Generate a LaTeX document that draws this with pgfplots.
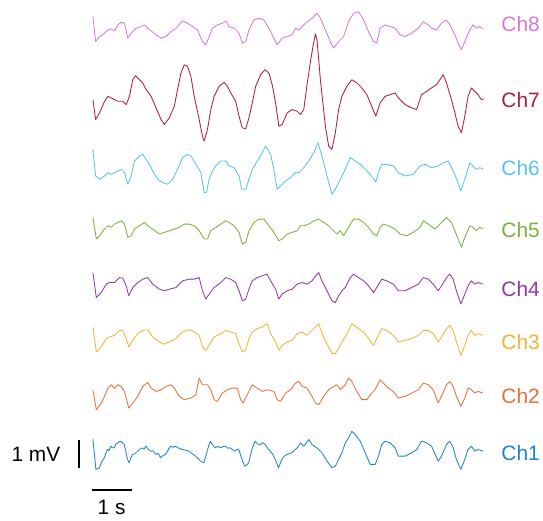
\documentclass[border=0pt]{standalone}
\usepackage{fontspec}
\setmainfont{Liberation Sans}
\usepackage{pgfplots}
\pgfplotsset{compat=1.18}

\definecolor{cA}{RGB}{30,130,200}
\definecolor{cB}{RGB}{232,110,60}
\definecolor{cC}{RGB}{240,180,50}
\definecolor{cD}{RGB}{140,60,160}
\definecolor{cE}{RGB}{125,175,60}
\definecolor{cF}{RGB}{85,195,235}
\definecolor{cG}{RGB}{170,30,60}
\definecolor{cH}{RGB}{215,120,215}
\tikzset{lbl/.style={font=\fontsize{21}{25}\selectfont, anchor=west}}

\begin{document}
\begin{tikzpicture}
\begin{axis}[
  width=543bp, height=523bp, scale only axis,
  xmin=0, xmax=543, ymin=0, ymax=523,
  y dir=reverse,
  hide axis, clip=false,
  every axis plot/.append style={line width=0.85pt, line join=round},
]
\addplot[draw=none, forget plot] coordinates {(0,0) (543,523)};

% Ch8
\addplot[cH] coordinates {
(93.3,16.7)(96,41.7)(100,36.7)(105,33.3)(108.3,30)(111.7,29)(115,31)(118.3,25)(121.7,22.3)(125,23.3)
(128.3,38.3)(131.7,33.3)(136.7,28.3)(141.7,26.7)(145,25)(148.3,28.3)(151.7,31)(156.7,35)(161.7,38.3)
(166.7,36.7)(171.7,31.7)(176.7,28.3)(183.3,21)(188.3,23.3)(193.3,26.7)(198.3,30)(203.3,41.7)(206.7,45)
(210,36.7)(213.3,28.3)(218.3,25)(223.3,23.3)(226.7,21)(230,26.7)(235,28.3)(240,33.3)(243.3,43.3)
(246.7,41.7)(250,30)(255,20)(260,18.3)(265,20)(270,28.3)(275,38.3)(278.3,45)(283.3,38.3)(288.3,36.7)
(293.3,35)(296.7,28.3)(300,30)(306.7,23.3)(313.3,18.3)(318.3,13.3)(321.7,18.3)(326.7,30)(331.7,41.7)
(335,48.3)(340,41.7)(345,36.7)(350,21.7)(355,13.3)(360,11.7)(365,20)(370,31.7)(375,41.7)(378.3,43.3)
(381.7,28.3)(386.7,25)(391.7,26.7)(396.7,28.3)(401.7,35)(406.7,36.7)(413.3,33.3)(420,28.3)(425,21.7)
(430,25)(433.3,28.3)(438.3,30)(443.3,23.3)(448.3,20)(451.7,25)(456.7,35)(460,43.3)(463.3,50)
(466.7,41.7)(471.7,30)(475,25)(478.3,28.3)(481.7,26.7)(485,29)};

% Ch7
\addplot[cG] coordinates {
(93.3,100)(96,120)(100,113.3)(105,101.7)(108.3,96.7)(111.7,98.3)(115,100)(118.3,101.7)(123.3,101.7)
(126.7,105)(130,96.7)(133.3,80)(136,76)(140,80)(143.3,83.3)(146.7,90)(151.7,96.7)(156.7,108.3)
(161.7,120)(165,125)(170,118.3)(175,106.7)(178.3,90)(181.7,73.3)(185,65)(188.3,66.7)(191.7,76.7)
(195,96.7)(200,120)(203.3,136.7)(205,141.7)(208.3,130)(211.7,110)(215,96.7)(220,86.7)(225,82.7)
(228.3,86.7)(231.7,93.3)(236.7,101.7)(240,116.7)(243.3,128.3)(246.7,129.3)(250,118.3)(253.3,103.3)
(256.7,86.7)(261.7,75)(266,70)(270,73.3)(273.3,85)(276.7,103.3)(280,126.7)(283.3,125)(288.3,113.3)
(293.3,110)(298.3,111.7)(301.7,115)(305,110)(308.3,85)(311.7,62)(314,48)(316.7,34)(318.3,40)
(321.7,80)(326.7,126.7)(330,146.7)(333.3,150)(336.7,133.3)(340,110)(343.3,96.7)(348.3,86.7)
(353.3,80)(358.3,83.3)(363.3,88.3)(368.3,95)(373.3,106.7)(377.3,116.7)(381.7,103.3)(386.7,96.7)
(391.7,95)(396.7,93.3)(400,98.3)(406.7,105)(413.3,108.3)(418.3,110)(423.3,95)(428.3,91.7)
(433.3,88.3)(438.3,85)(441.7,80)(445,75)(448.3,83.3)(453.3,100)(456.7,113.3)(460,126.7)
(463.3,133.3)(466.7,116.7)(470,96.7)(473.3,88.3)(476.7,91.7)(480,95)(483.3,100)(486,99.3)};

% Ch6
\addplot[cF] coordinates {
(93.3,150)(96,176.7)(100,180)(105,176.7)(108.3,173.3)(111.7,175)(115,173.3)(118.3,171.7)(121.7,170)
(125,173.3)(128.3,185)(131.7,176.7)(135,161.7)(140,156.7)(143.3,155)(146.7,160)(150,165)(153.3,171.7)
(158.3,180)(163.3,183.3)(168.3,185)(173.3,180)(178.3,170)(183.3,158.3)(188.3,155)(191.7,156.7)
(196.7,165)(201.7,173.3)(205,193.3)(207.3,193.3)(210,180)(213.3,171.7)(216.7,166.7)(221.7,161.7)
(226.7,161.7)(230,166.7)(235,168.3)(240,176.7)(242.7,190)(246.7,190)(250,180)(253.3,170)(258.3,161.7)
(263.3,153.3)(266.7,146.7)(271.7,155)(275,170)(278.3,190)(281.7,186.7)(286.7,181.7)(291.7,178.3)
(296.7,173.3)(300,173.3)(305,168.3)(310,161.7)(315,153.3)(319.3,143.3)(323.3,156.7)(328.3,176.7)
(333.3,195)(336.7,190)(341.7,180)(346.7,170)(351.7,158.3)(356.7,161.7)(361.7,165)(366.7,170)
(371.7,175)(377.3,182.7)(380,173.3)(383.3,165)(388.3,165)(395,166.7)(400,173.3)(406.7,176.7)
(415,175)(421.7,166.7)(426.7,165)(433.3,168.3)(440,166.7)(445,163.3)(450,161.7)(455,171.7)
(459.3,181.7)(462.7,191.7)(466.7,180)(471.7,163.3)(475,166.7)(478.3,170)(481.7,168.3)(485,170)};

% Ch5
\addplot[cE] coordinates {
(93.3,218.3)(96.7,240)(100,236.7)(105,230)(108.3,226.7)(111.7,228.3)(115,225)(118.3,223.3)(121.7,221.7)
(125,225)(128.3,238.3)(131.7,236.7)(135,230)(140,226.7)(145,223.3)(148.3,226.7)(153.3,230)(160,235)
(165,233.3)(170,231.7)(175,230)(180,228.3)(185,225)(190,225)(195,226.7)(200,231.7)(205,240)
(208.3,240)(211.7,231.7)(216.7,228.3)(221.7,225)(226.7,221.7)(230,223.3)(235,226.7)(240,233.3)
(243.3,245)(246.7,243.3)(250,231.7)(255,223.3)(260,220)(265,220)(270,226.7)(275,233.3)(280,241.7)
(283.3,240)(288.3,235)(293.3,233.3)(298.3,231.7)(301.7,226.7)(305,226.7)(310,225)(315,221.7)
(320,220)(325,223.3)(330,226.7)(335,231.7)(338.3,235)(341.7,231.7)(345,236.7)(350,228.3)(355,220)
(360,220)(365,223.3)(370,228.3)(375,235)(378.3,236.7)(381.7,228.3)(385,225)(390,226.7)(396.7,230)
(401.7,235)(408.3,236.7)(415,233.3)(421.7,228.3)(425,221.7)(430,225)(436.7,230)(441.7,225)
(448.3,218.3)(453.3,223.3)(456.7,231.7)(460.7,241.7)(463.3,248.3)(466.7,238.3)(471.7,226.7)
(475,228.3)(478.3,231.7)(481.7,228.3)(485,230)};

% Ch4
\addplot[cD] coordinates {
(93.3,273.7)(96.7,298.7)(101.7,293.7)(106.7,285.3)(110,283.7)(115,283.7)(120,278.7)(123.3,279.3)
(126.7,287)(129.3,297)(133.3,288.7)(138.3,283.7)(143.3,280.3)(148.3,278.7)(153.3,285.3)(160,290.3)
(165,292)(170,290.3)(176.7,288.7)(183.3,282)(190,280.3)(195,280.3)(200,278.7)(203.3,292)(206.7,300.3)
(210,295.3)(215,288.7)(221.7,283.7)(226.7,278.7)(231.7,280.3)(236.7,283.7)(240,292)(243.3,302)
(246.7,300.3)(250,290.3)(253.3,282)(258.3,278.7)(263.3,277)(268.3,275.3)(271.7,282)(276.7,290.3)
(280,300.3)(283.3,295.3)(288.3,292)(293.3,290.3)(298.3,285.3)(303.3,283.7)(308.3,285.3)(313.3,282)
(318.3,275.3)(320,273.7)(323.3,282)(328.3,292)(333.3,302)(336.7,303.7)(340,297)(343.3,292)
(346.7,288.7)(351.7,278.7)(355,275.3)(360,278.7)(365,282)(370,287)(375,293.7)(378.3,288.7)
(383.3,280.3)(388.3,282)(395,285.3)(400,292)(406.7,292)(413.3,288.7)(420,285.3)(425,278.7)
(430,280.3)(435,285.3)(440,292)(443.3,287)(448.3,278.7)(451.7,275.3)(455,280.3)(458.3,292)
(462.7,305.3)(466.7,295.3)(470,287)(473.3,282)(476.7,285.3)(480,283.7)(485,285.3)};

% Ch3
\addplot[cC] coordinates {
(93.3,328.3)(96.7,353.3)(101.7,348.3)(106.7,340)(110,338.3)(115,336.7)(120,331.7)(123.3,331.7)
(126.7,340)(129.3,348.3)(133.3,341.7)(138.3,335)(143.3,331.7)(148.3,331)(153.3,338.3)(160,343.3)
(165,345.7)(170,343.3)(176.7,340)(183.3,333.3)(190,331)(195,333.3)(200,336.7)(203.3,348.3)
(206.7,351.7)(210,346.7)(215,338.3)(221.7,335)(226.7,331.7)(231.7,333.3)(236.7,335)(240,345)
(243.3,353.3)(246.7,351.7)(250,340)(253.3,333.3)(258.3,330)(263.3,328.3)(268.3,325)(271.7,335)
(276.7,343.3)(280,351.7)(283.3,346.7)(288.3,343.3)(293.3,341.7)(298.3,335)(303.3,333.3)(308.3,336.7)
(313.3,331.7)(318.3,326.7)(320,325)(323.3,335)(328.3,345)(333.3,355)(336.7,355)(340,350)(343.3,343.3)
(346.7,338.3)(351.7,328.3)(353.3,325)(360,330)(365,333.3)(370,340)(375,346.7)(378.3,340)(383.3,330)
(388.3,331.7)(395,336.7)(400,343.3)(406.7,341.7)(413.3,340)(420,336.7)(425,331.7)(430,331.7)
(435,335)(440,343.3)(443.3,338.3)(448.3,330)(451.7,326.7)(455,331.7)(458.3,343.3)(462.7,356.7)
(466.7,346.7)(470,336.7)(473.3,331.7)(476.7,336.7)(480,335)(485,336.7)};

% Ch2
\addplot[cB] coordinates {
(93.3,391.3)(96.7,411.3)(101.7,404.7)(105,398)(108.3,389.7)(111.7,386.3)(115,389.7)(118.3,386.3)
(121.7,388)(125,393)(129.3,409.7)(133.3,404.7)(138.3,398)(143.3,388)(148.3,384)(151.7,389.7)
(156.7,393)(161.7,391.3)(166.7,388)(171.7,386.3)(175,389.7)(180,398)(185,401.3)(191.7,399.7)
(196.7,396.3)(200,379.7)(203.3,386.3)(208.3,386.3)(211.7,391.3)(215,401.3)(218.3,403)(223.3,394.7)
(228.3,391.3)(233.3,389.7)(238.3,389.7)(241.7,401.3)(244,404.7)(248.3,396.3)(253.3,386.3)
(258.3,389.7)(263.3,393)(268.3,391.3)(275,393)(278.3,401.3)(281.7,403)(286.7,394.7)(291.7,391.3)
(296.7,384.7)(300,383)(303.3,388)(308.3,389.7)(313.3,398)(316.7,404.7)(320,406.3)(325,398)
(330,391.3)(335,388)(338.3,386.3)(341.7,391.3)(346.7,386.3)(350,379.7)(353.3,383)(358.3,393)
(363.3,401.3)(368.3,401.3)(373.3,394.7)(376.7,391.3)(381.7,381.3)(385,384.7)(390,389.7)(395,393)
(400,399.7)(406.7,398)(413.3,394.7)(420,391.3)(425,384.7)(430,386.3)(435,391.3)(440,404.7)
(443.3,398)(448.3,386.3)(451.7,383)(455,388)(458.3,398)(462.7,408)(466.7,399.7)(470,389.7)
(473.3,391.3)(476.7,394.7)(480,393)(485,394.7)};

% Ch1
\addplot[cA] coordinates {
(93.3,441)(96.3,471.3)(99.7,470)(102,464)(104.7,459.7)(106.3,455)(108,451.3)(109.5,452.5)(111.3,448)
(113,449.5)(114.7,449.7)(116.3,446)(118,444.7)(119.7,443.5)(121.3,443)(123,444.5)(124.7,446.3)
(126.3,453)(128,461.3)(129.7,464.7)(131.3,460)(133,456.3)(135.5,455.5)(138,453)(140.5,451)(143,449.7)
(144.7,451)(146.3,448)(148.7,451)(151.3,453)(153.7,452.5)(156.3,456.3)(158.7,455)(161.3,459.7)
(163.7,457.5)(166.3,456.3)(169,451.5)(171.3,448)(173.7,449)(176.3,448)(179.5,450)(183,451.3)
(186.3,452)(189.7,453)(193,455.5)(196.3,458)(199,460.5)(201.3,463)(204.7,464.7)(206.3,459)(208,453)
(209.7,447)(211.3,443)(213.7,447)(216.3,449.7)(218.7,448)(221.3,449.7)(223.7,448.5)(226.3,448)
(228.7,450)(231.3,449.7)(233.7,451.5)(236.3,453)(238,451)(239.7,451.3)(241.3,456)(243,461.3)
(245.7,468)(247.7,467)(249.7,464.7)(251.3,458)(253,451.3)(254.7,446)(256.3,443)(258.7,446)
(261.3,446.3)(263.7,444.5)(266.3,446.3)(268.7,450)(271.3,453)(273.7,456)(276.3,461.3)(279.7,469.7)
(283,461.3)(285.5,458)(288,456.3)(290.5,455.5)(293,454.7)(298.3,449.7)(301.7,444.7)(305,448)
(310,441.3)(313.3,446.3)(318.3,449.7)(323.3,454.7)(328.3,463)(333.3,469.7)(336.7,468)(340,461.3)
(343.3,454.7)(346.7,444.7)(350,439.7)(353.3,433)(356.7,436.3)(361.7,443)(366.7,454.7)(371.7,466.3)
(376.7,466.3)(380,458)(383.3,446.3)(386.7,443)(391.7,444.7)(396.7,449.7)(400,458)(406.7,458)
(413.3,454.7)(418.3,451.3)(423.3,443)(428.3,444.7)(433.3,448)(440,463)(443.3,458)(448.3,446.3)
(451.7,443)(455,449.7)(458.3,461.3)(462.7,471.3)(466.7,461.3)(470,451.3)(473.3,448)(476.7,453)
(480,451.3)(485,453)};

% scale bars
\addplot[black, line width=2pt] coordinates {(79.3,441.7) (79.3,470)};
\addplot[black, line width=2.2pt] coordinates {(92.7,491.7) (132.7,491.7)};

\node[lbl, text=cH] at (axis cs:500,24) {Ch8};
\node[lbl, text=cG] at (axis cs:500,100) {Ch7};
\node[lbl, text=cF] at (axis cs:500,169) {Ch6};
\node[lbl, text=cE] at (axis cs:500,231) {Ch5};
\node[lbl, text=cD] at (axis cs:500,290) {Ch4};
\node[lbl, text=cC] at (axis cs:500,343) {Ch3};
\node[lbl, text=cB] at (axis cs:500,398) {Ch2};
\node[lbl, text=cA] at (axis cs:500,455) {Ch1};
\node[font=\fontsize{21}{25}\selectfont, anchor=east] at (axis cs:64,456) {1 mV};
\node[font=\fontsize{21}{25}\selectfont] at (axis cs:112,510) {1 s};
\end{axis}
\end{tikzpicture}
\end{document}
